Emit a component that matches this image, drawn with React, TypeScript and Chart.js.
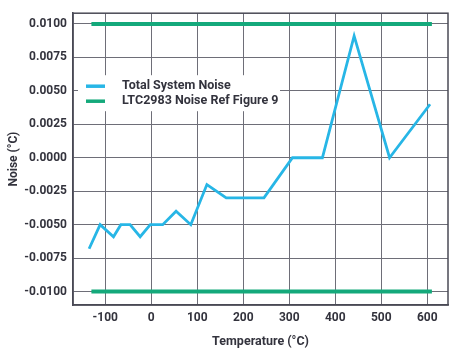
import React, { useEffect, useRef } from "react";
import { Chart, registerables } from "chart.js";

Chart.register(...registerables);

const temperatures = [-135, -111, -82, -66, -46, -24, -2, 25, 54, 86, 121, 163, 245, 307, 372, 441, 518, 606];
const totalNoise = [-0.0068, -0.005, -0.0059, -0.005, -0.005, -0.0059, -0.005, -0.005, -0.004, -0.005, -0.002, -0.003, -0.003, 0, 0, 0.0091, 0, 0.004];
const refTemperatures = [-130, 610];
const refNoiseLimit = 0.01;
const xTickValues = [-100, 0, 100, 200, 300, 400, 500, 600];
const yTickValues = [-0.01, -0.0075, -0.005, -0.0025, 0, 0.0025, 0.005, 0.0075, 0.01];

const BLUE = "#27b6e6";
const GREEN = "#14a97b";
const TEXT = "#33333d";
const FONT = "Roboto";

const legendPlugin = {
  id: "insideLegend",
  beforeDatasetsDraw(chart: any) {
    const ctx = chart.ctx;
    const a = chart.chartArea;
    ctx.save();
    ctx.fillStyle = "#ffffff";
    ctx.fillRect(a.left + 5, a.top + 62, 202, 36);
    ctx.restore();
  },
  afterDatasetsDraw(chart: any) {
    const ctx = chart.ctx;
    const a = chart.chartArea;
    ctx.save();
    ctx.strokeStyle = "#4a4a55";
    ctx.lineWidth = 1.5;
    ctx.strokeRect(a.left, a.top, a.right - a.left, a.bottom - a.top);
    const rows = chart.data.datasets;
    rows.forEach((ds: any, i: number) => {
      const y = a.top + 73 + i * 15;
      ctx.strokeStyle = ds.borderColor;
      ctx.lineWidth = 3.5;
      ctx.beginPath();
      ctx.moveTo(a.left + 13, y);
      ctx.lineTo(a.left + 32, y);
      ctx.stroke();
      ctx.fillStyle = TEXT;
      ctx.font = `bold 12.5px ${FONT}`;
      ctx.textBaseline = "middle";
      ctx.textAlign = "left";
      ctx.fillText(ds.label, a.left + 49, y);
    });
    ctx.restore();
  },
};

export default function App() {
  const ref = useRef<HTMLCanvasElement | null>(null);

  useEffect(() => {
    if (!ref.current) return;
    const noisePoints = temperatures.map((t, i) => ({ x: t, y: totalNoise[i] }));
    const refPoints: any[] = [
      { x: refTemperatures[0], y: refNoiseLimit },
      { x: refTemperatures[1], y: refNoiseLimit },
      { x: refTemperatures[1], y: null },
      { x: refTemperatures[0], y: -refNoiseLimit },
      { x: refTemperatures[1], y: -refNoiseLimit },
    ];
    const chart = new Chart(ref.current, {
      type: "line",
      data: {
        datasets: [
          {
            label: "Total System Noise",
            data: noisePoints,
            borderColor: BLUE,
            backgroundColor: BLUE,
            borderWidth: 2.8,
            pointRadius: 0,
            tension: 0,
          },
          {
            label: "LTC2983 Noise Ref Figure 9",
            data: refPoints,
            borderColor: GREEN,
            backgroundColor: GREEN,
            borderWidth: 4,
            pointRadius: 0,
            spanGaps: false,
            tension: 0,
          },
        ],
      },
      options: {
        responsive: false,
        animation: false,
        layout: { padding: { top: 5, right: 6, left: 0, bottom: 0 } },
        plugins: {
          legend: { display: false },
          tooltip: { enabled: false },
        },
        scales: {
          x: {
            type: "linear",
            min: -170,
            max: 645,
            afterBuildTicks: (s: any) => {
              s.ticks = xTickValues.map((v) => ({ value: v }));
            },
            afterFit: (s: any) => {
              s.height = 46;
            },
            grid: { color: "#6e6e78", lineWidth: 1, drawTicks: false },
            border: { display: true, color: "#4a4a55", width: 1.5 },
            ticks: {
              padding: 6,
              color: TEXT,
              font: { family: FONT, size: 12, weight: "bold" },
              callback: (v: any) => String(v),
            },
            title: {
              display: true,
              text: "Temperature (°C)",
              color: TEXT,
              font: { family: FONT, size: 12.5, weight: "bold" },
              padding: { top: 0, bottom: 2 },
            },
          },
          y: {
            type: "linear",
            min: -0.011,
            max: 0.0108,
            afterBuildTicks: (s: any) => {
              s.ticks = yTickValues.map((v) => ({ value: v }));
            },
            afterFit: (s: any) => {
              s.width = 73;
            },
            grid: { color: "#6e6e78", lineWidth: 1, drawTicks: false },
            border: { display: true, color: "#4a4a55", width: 1.5 },
            ticks: {
              padding: 6,
              color: TEXT,
              font: { family: FONT, size: 12, weight: "bold" },
              callback: (v: any) => Number(v).toFixed(4),
            },
            title: {
              display: true,
              text: "Noise (°C)",
              color: TEXT,
              font: { family: FONT, size: 12, weight: "bold" },
              padding: { top: 7, bottom: 0 },
            },
          },
        },
      },
      plugins: [legendPlugin],
    } as any);
    return () => chart.destroy();
  }, []);

  return (
    <div style={{ position: "absolute", left: 0, top: 0, width: 454, height: 351, background: "#fff" }}>
      <canvas ref={ref} width={454} height={351} style={{ display: "block" }} />
    </div>
  );
}
